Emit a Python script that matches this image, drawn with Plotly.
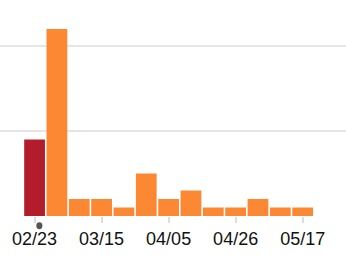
import pandas as pd
import plotly.graph_objects as go

weeks = ["2020-02-23", "2020-03-01", "2020-03-08", "2020-03-15", "2020-03-22",
         "2020-03-29", "2020-04-05", "2020-04-12", "2020-04-19", "2020-04-26",
         "2020-05-03", "2020-05-10", "2020-05-17"]
counts = [9, 22, 2, 2, 1, 5, 2, 3, 1, 1, 2, 1, 1]
highlight_index = 0
tick_dates = ["2020-02-23", "2020-03-15", "2020-04-05", "2020-04-26", "2020-05-17"]
tick_labels = ["02/23", "03/15", "04/05", "04/26", "05/17"]
marker_date = "2020-02-24 12:00"

RED = "#b31d2b"
ORANGE = "#fd8834"
colors = [RED if i == highlight_index else ORANGE for i in range(len(counts))]

fig = go.Figure()
fig.add_trace(go.Bar(x=weeks, y=counts, marker=dict(color=colors, line=dict(width=0)),
                     hoverinfo="skip"))

# small dark dot under the highlighted week (paper y so it is not clipped)
md = pd.Timestamp(marker_date)
half = pd.Timedelta(hours=23)
fig.add_shape(type="circle", xref="x", yref="paper",
              x0=md - half, x1=md + half, y0=-0.029, y1=-0.061,
              fillcolor="#555555", line=dict(width=0), layer="above")

fig.update_layout(
    width=346, height=262,
    margin=dict(l=0, r=0, t=0, b=46),
    paper_bgcolor="white", plot_bgcolor="white",
    showlegend=False, bargap=0.07,
    font=dict(family="Liberation Sans, Arial, sans-serif", size=18, color="#111111"),
    xaxis=dict(type="date", range=["2020-02-12 04:00", "2020-05-30 14:00"],
               tickvals=tick_dates, ticktext=tick_labels,
               ticks="outside", ticklen=6, tickwidth=2, tickcolor="#dddddd",
               showgrid=False, zeroline=False, showline=False,
               tickfont=dict(size=18)),
    yaxis=dict(range=[0, 25.41], tickvals=[0, 10, 20], showticklabels=False,
               showgrid=True, gridcolor="#e6e6e6", gridwidth=2,
               zeroline=False, showline=False),
)

fig.write_html("out.html")
